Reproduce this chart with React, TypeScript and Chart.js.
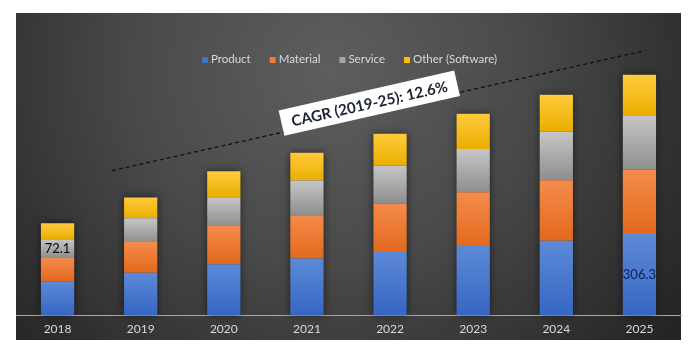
import React, { useEffect, useRef } from "react";
import { Chart, registerables } from "chart.js";

Chart.register(...registerables);

const years = ["2018", "2019", "2020", "2021", "2022", "2023", "2024", "2025"];
const product = [42.3, 53.7, 64.7, 72.0, 80.4, 88.0, 94.8, 103.2];
const material = [30.5, 39.4, 48.6, 55.0, 61.8, 68.5, 76.9, 82.1];
const service = [23.7, 30.1, 36.8, 44.4, 48.2, 55.1, 62.2, 68.5];
const other = [20.3, 26.7, 33.0, 35.5, 40.6, 44.8, 47.0, 52.4];
const productLabels = [null, null, null, null, null, null, null, "306.3"];
const serviceLabels = ["72.1", null, null, null, null, null, null, null];
const materialLabels = [null, null, null, null, null, null, null, null];
const otherLabels = [null, null, null, null, null, null, null, null];
const seriesNames = ["Product", "Material", "Service", "Other (Software)"];
const cagrText = "CAGR (2019-25): 12.6%";
// annotation anchors in data units (category index, value)
const cagrLineStart = [0.656, 184];
const cagrLineEnd = [7.07, 337];
const cagrBoxCenter = [3.75, 270];

const seriesList = [product, material, service, other];
const labelList = [productLabels, materialLabels, serviceLabels, otherLabels];
const flatColors = ["#4472c4", "#ed7d31", "#a5a5a5", "#ffc000"];
const gradColors = [
  ["#5d8ad7", "#3566c3"],
  ["#f58b4c", "#e2691d"],
  ["#c6c6c6", "#8e8e8e"],
  ["#ffcb3c", "#eaae00"],
];
const labelColors = ["#0f1f4f", "#000000", "#000000", "#000000"];
const FONT = "Lato, 'Open Sans', sans-serif";

const bgPlugin = {
  id: "bgPlugin",
  beforeDraw(chart: any) {
    const ctx = chart.ctx;
    ctx.save();
    ctx.fillStyle = "#ffffff";
    ctx.fillRect(0, 0, chart.width, chart.height);
    const g = ctx.createRadialGradient(330, 70, 0, 330, 70, 430);
    g.addColorStop(0, "#5e5e5e");
    g.addColorStop(0.45, "#4a4a4a");
    g.addColorStop(1, "#242424");
    ctx.fillStyle = g;
    ctx.fillRect(16, 13, 665, 327);
    ctx.restore();
  },
};

const shadowPlugin = {
  id: "shadowPlugin",
  beforeDatasetsDraw(chart: any) {
    const ctx = chart.ctx;
    const first = chart.getDatasetMeta(0);
    const last = chart.getDatasetMeta(chart.data.datasets.length - 1);
    ctx.save();
    ctx.shadowColor = "rgba(0,0,0,0.55)";
    ctx.shadowBlur = 8;
    ctx.fillStyle = "#303030";
    first.data.forEach((el: any, i: number) => {
      const top = last.data[i];
      const w = el.width;
      ctx.fillRect(el.x - w / 2, top.y, w, el.base - top.y);
    });
    ctx.restore();
  },
};

const overlayPlugin = {
  id: "overlayPlugin",
  afterDraw(chart: any) {
    const ctx = chart.ctx;
    const xs = chart.scales.x;
    const ys = chart.scales.y;
    ctx.save();
    // data labels
    chart.data.datasets.forEach((ds: any, di: number) => {
      const meta = chart.getDatasetMeta(di);
      labelList[di].forEach((lab, i) => {
        if (!lab) return;
        const el: any = meta.data[i];
        const cy = (el.y + el.base) / 2;
        ctx.fillStyle = labelColors[di];
        ctx.font = `13px ${FONT}`;
        ctx.textAlign = "center";
        ctx.textBaseline = "middle";
        ctx.fillText(lab, el.x, cy);
      });
    });
    // legend
    ctx.font = `11.5px ${FONT}`;
    ctx.textBaseline = "middle";
    ctx.textAlign = "left";
    const box = 6;
    const gap = 3;
    const itemGap = 19;
    const widths = seriesNames.map((n) => box + gap + ctx.measureText(n).width);
    const total = widths.reduce((a, b) => a + b, 0) + itemGap * (widths.length - 1);
    let lx = 349.5 - total / 2;
    const ly = 59;
    seriesNames.forEach((n, i) => {
      ctx.fillStyle = flatColors[i];
      ctx.fillRect(lx, ly - box / 2 + 1, box, box);
      ctx.fillStyle = "#d9d9d9";
      ctx.fillText(n, lx + box + gap, ly);
      lx += widths[i] + itemGap;
    });
    // CAGR dashed line
    const x0 = xs.getPixelForValue(cagrLineStart[0]);
    const y0 = ys.getPixelForValue(cagrLineStart[1]);
    const x1 = xs.getPixelForValue(cagrLineEnd[0]);
    const y1 = ys.getPixelForValue(cagrLineEnd[1]);
    ctx.strokeStyle = "#111111";
    ctx.lineWidth = 1.3;
    ctx.setLineDash([4, 3]);
    ctx.beginPath();
    ctx.moveTo(x0, y0);
    ctx.lineTo(x1, y1);
    ctx.stroke();
    ctx.setLineDash([]);
    // CAGR box
    const bx = xs.getPixelForValue(cagrBoxCenter[0]);
    const by = ys.getPixelForValue(cagrBoxCenter[1]);
    ctx.translate(bx, by);
    ctx.rotate((-12.8 * Math.PI) / 180);
    ctx.fillStyle = "#ffffff";
    ctx.fillRect(-90, -13, 180, 26);
    ctx.fillStyle = "#1b2233";
    ctx.font = `bold 15px ${FONT}`;
    ctx.textAlign = "center";
    ctx.textBaseline = "middle";
    ctx.fillText(cagrText, 0, 1);
    ctx.restore();
  },
};

function makeBg(di: number) {
  return (c: any) => {
    const chart = c.chart;
    if (!chart.chartArea || c.type !== "data") return flatColors[di];
    const i = c.dataIndex;
    let base = 0;
    for (let k = 0; k < di; k++) base += seriesList[k][i];
    const top = base + seriesList[di][i];
    const ys = chart.scales.y;
    const yt = ys.getPixelForValue(top);
    const yb = ys.getPixelForValue(base);
    if (!isFinite(yt) || !isFinite(yb)) return flatColors[di];
    const g = chart.ctx.createLinearGradient(0, yt, 0, yb);
    g.addColorStop(0, gradColors[di][0]);
    g.addColorStop(1, gradColors[di][1]);
    return g;
  };
}

export default function App() {
  const ref = useRef<HTMLCanvasElement | null>(null);
  useEffect(() => {
    if (!ref.current) return;
    const chart = new Chart(ref.current, {
      type: "bar",
      data: {
        labels: years,
        datasets: seriesList.map((s, di) => ({
          label: seriesNames[di],
          data: s,
          backgroundColor: makeBg(di),
          borderWidth: 0,
          barPercentage: 0.5,
          categoryPercentage: 0.8,
        })),
      },
      options: {
        responsive: false,
        animation: false,
        layout: { padding: { left: 16, right: 12, top: 74, bottom: 7.6 } },
        plugins: {
          legend: { display: false },
          tooltip: { enabled: false },
          title: { display: false },
        },
        scales: {
          x: {
            stacked: true,
            grid: { display: false, drawTicks: false },
            border: { display: true, color: "#a9a9a9", width: 1 },
            ticks: { color: "#d9d9d9", font: { family: FONT, size: 12 }, padding: 7 },
          },
          y: {
            stacked: true,
            display: false,
            min: 0,
            max: 307.2,
          },
        },
      },
      plugins: [bgPlugin, shadowPlugin, overlayPlugin],
    });
    return () => chart.destroy();
  }, []);
  return (
    <div style={{ position: "absolute", left: 0, top: 0, width: 693, height: 351 }}>
      <canvas ref={ref} width={693} height={351} style={{ display: "block" }} />
    </div>
  );
}
